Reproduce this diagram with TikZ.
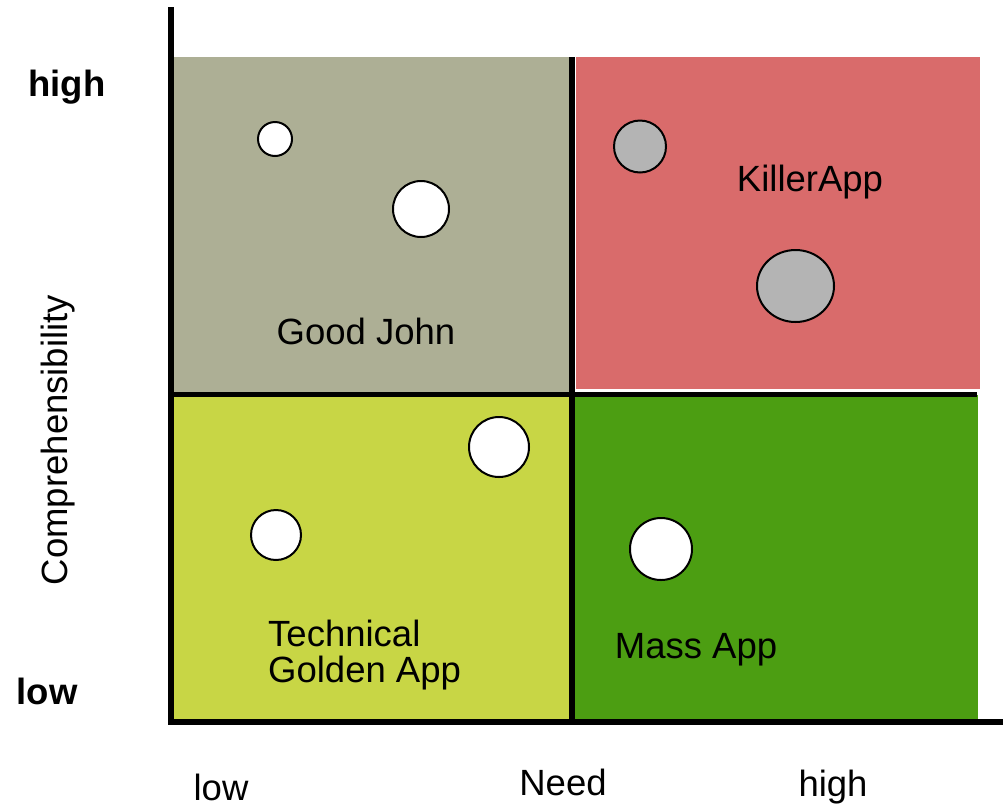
\documentclass[tikz,border=0pt]{standalone}
\usepackage{fontspec}
\setmainfont{Liberation Sans}
\usepackage{xcolor}
\usetikzlibrary{shapes.geometric, positioning}
\definecolor{johngray}{RGB}{173,175,149}
\definecolor{killerred}{RGB}{217,107,107}
\definecolor{goldenlime}{RGB}{200,214,69}
\definecolor{massgreen}{RGB}{76,158,18}
\definecolor{bubblegray}{RGB}{180,180,180}
\tikzstyle{quadrant} = [rectangle, draw=none, inner sep=0pt, anchor=north west]
\tikzstyle{axisline} = [line width=6pt]
\tikzstyle{bubble} = [circle, draw, line width=2pt, fill=white, inner sep=0pt]
\tikzstyle{quadtext} = [font=\fontsize{36.5}{36}\selectfont, inner sep=0pt]
\tikzstyle{ticktext} = [font=\fontsize{36.5}{36}\selectfont\bfseries, inner sep=0pt]

\begin{document}
\begin{tikzpicture}[x=1pt, y=-1pt]
    \useasboundingbox (0,0) rectangle (1003,807);
    % quadrants
    \node (john) [quadrant, fill=johngray, minimum width=400pt, minimum height=335pt] at (172,57) {};
    \node (killer) [quadrant, fill=killerred, minimum width=404pt, minimum height=332pt] at (576,57) {};
    \node (golden) [quadrant, fill=goldenlime, minimum width=400pt, minimum height=325pt] at (172,395) {};
    \node (mass) [quadrant, fill=massgreen, minimum width=403pt, minimum height=325pt] at (575,395) {};

    % axes and dividers
    \coordinate (ytop) at (171,7);
    \coordinate (origin) at (171,722);
    \coordinate (xend) at (1003,722);
    \coordinate (midtop) at (572,57);
    \coordinate (midbot) at (572,720);
    \coordinate (midleft) at (172,394.5);
    \coordinate (midright) at (977,394.5);
    \draw [axisline] (ytop) -- ([yshift=-3pt]origin);
    \draw [axisline] ([xshift=-3pt]origin) -- (xend);
    \draw [axisline] (midtop) -- (midbot);
    \draw [axisline, line width=5pt] (midleft) -- (midright);

    % bubbles
    \node (b1) [bubble, minimum size=34pt] at (275,139) {};
    \node (b2) [bubble, minimum size=56pt] at (421,209) {};
    \node (b3) [bubble, fill=bubblegray, minimum size=52pt] at (640,146.5) {};
    \node (b4) [bubble, ellipse, fill=bubblegray, minimum width=77pt, minimum height=72pt] at (795.5,286) {};
    \node (b5) [bubble, minimum size=60pt] at (499,447) {};
    \node (b6) [bubble, minimum size=50pt] at (276,535) {};
    \node (b7) [bubble, minimum size=62pt] at (661,549) {};

    % quadrant names
    \node (johnname) [quadtext] at (366,331) {Good John};
    \node (killername) [quadtext] at (810,182) {KillerApp};
    \node (goldenname) [quadtext, align=left, anchor=west] at (268,655) {Technical\\Golden App};
    \node (massname) [quadtext] at (696,650) {Mass App};

    % axis labels
    \node (yhigh) [ticktext] at (67,87) {high};
    \node (ylow) [ticktext] at (47,691) {low};
    \node (ytitle) [quadtext, rotate=90] at (58,440) {Comprehensibility};
    \node (xlow) [quadtext] at (221,787) {low};
    \node (xtitle) [quadtext] at (563,782) {Need};
    \node (xhigh) [quadtext] at (833,787) {high};
\end{tikzpicture}
\end{document}
